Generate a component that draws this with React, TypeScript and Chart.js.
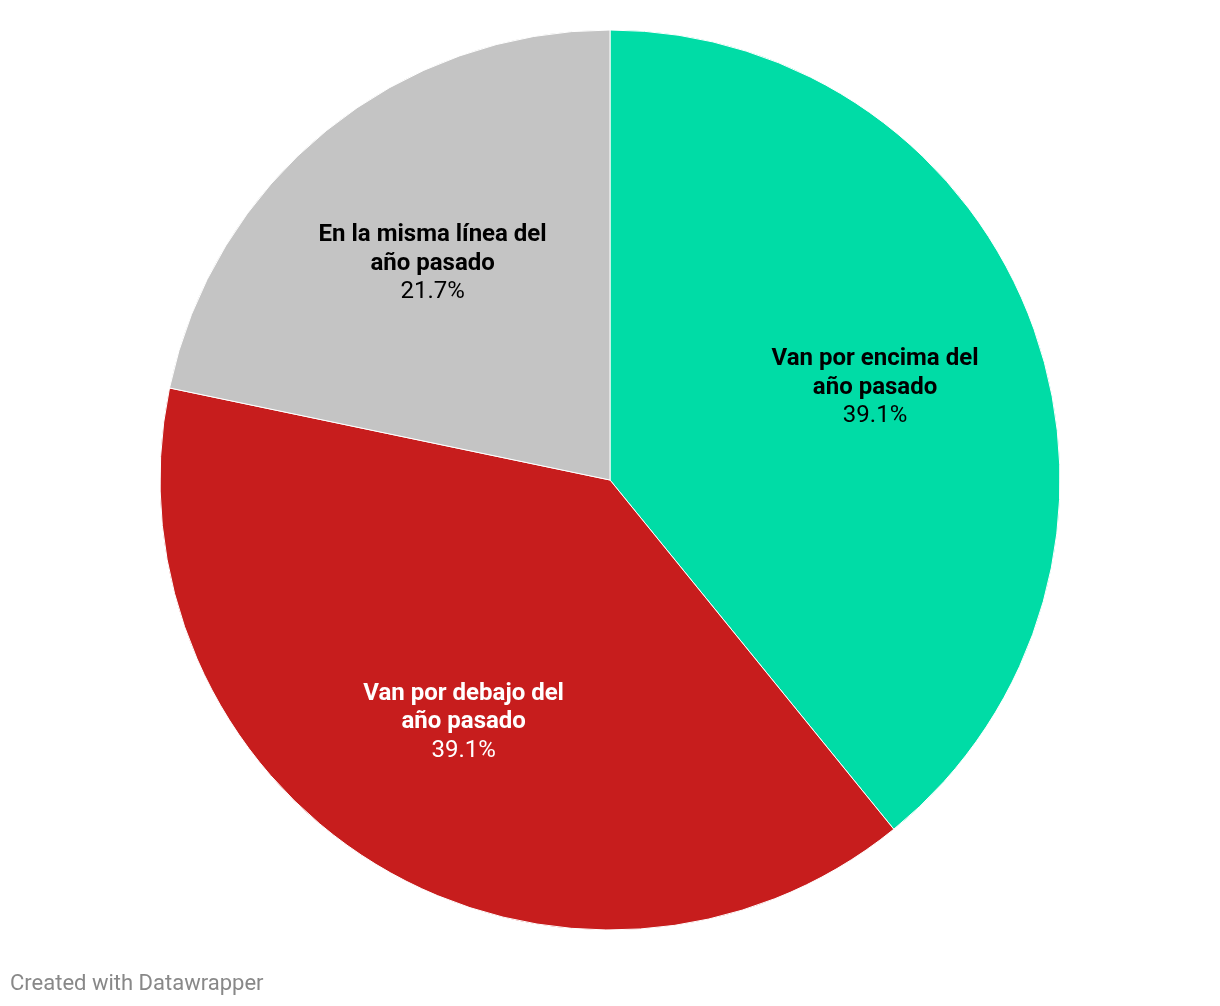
import React, { useEffect, useRef } from "react";
import { Chart, registerables } from "chart.js";

Chart.register(...registerables);

const categories = [
  ["Van por encima del", "año pasado"],
  ["Van por debajo del", "año pasado"],
  ["En la misma línea del", "año pasado"],
];
const values = [39.1, 39.1, 21.7];
const colors = ["#00dca6", "#c71d1d", "#c4c4c4"];
const labelColors = ["#000000", "#ffffff", "#000000"];

const labelPlugin = {
  id: "sliceLabels",
  afterDatasetsDraw(chart: any) {
    const ctx = chart.ctx;
    const meta = chart.getDatasetMeta(0);
    meta.data.forEach((arc: any, i: number) => {
      const p = arc.getProps(["x", "y", "startAngle", "endAngle", "outerRadius"], true);
      const mid = (p.startAngle + p.endAngle) / 2;
      const r = p.outerRadius * 0.625;
      const cx = p.x + Math.cos(mid) * r;
      const cy = p.y + Math.sin(mid) * r + 2;
      const lines = categories[i];
      const lh = 28.5;
      ctx.save();
      ctx.textAlign = "center";
      ctx.textBaseline = "middle";
      ctx.fillStyle = labelColors[i];
      ctx.font = "bold 24px Roboto";
      ctx.fillText(lines[0], cx, cy - lh);
      ctx.fillText(lines[1], cx, cy);
      ctx.font = "24px Roboto";
      ctx.fillText(values[i].toFixed(1) + "%", cx, cy + lh);
      ctx.restore();
    });
  },
};

export default function App() {
  const ref = useRef<HTMLCanvasElement>(null);
  useEffect(() => {
    const chart = new Chart(ref.current!, {
      type: "pie",
      data: {
        labels: categories.map((c) => c.join(" ")),
        datasets: [
          {
            data: values,
            backgroundColor: colors,
            borderColor: "#ffffff",
            borderWidth: 1,
          },
        ],
      },
      options: {
        responsive: false,
        animation: false,
        layout: { padding: { left: 159.5, right: 159.5, top: 29.5, bottom: 75.5 } },
        plugins: { legend: { display: false }, tooltip: { enabled: false } },
      },
      plugins: [labelPlugin],
    });
    return () => chart.destroy();
  }, []);
  return (
    <div style={{ position: "absolute", left: 0, top: 0, width: 1220, height: 1006, background: "#fff" }}>
      <canvas ref={ref} width={1220} height={1006} style={{ display: "block" }} />
      <div
        style={{
          position: "absolute",
          left: 10,
          top: 970,
          fontFamily: "Roboto",
          fontSize: 22,
          color: "#888888",
          lineHeight: "26px",
        }}
      >
        Created with Datawrapper
      </div>
    </div>
  );
}
